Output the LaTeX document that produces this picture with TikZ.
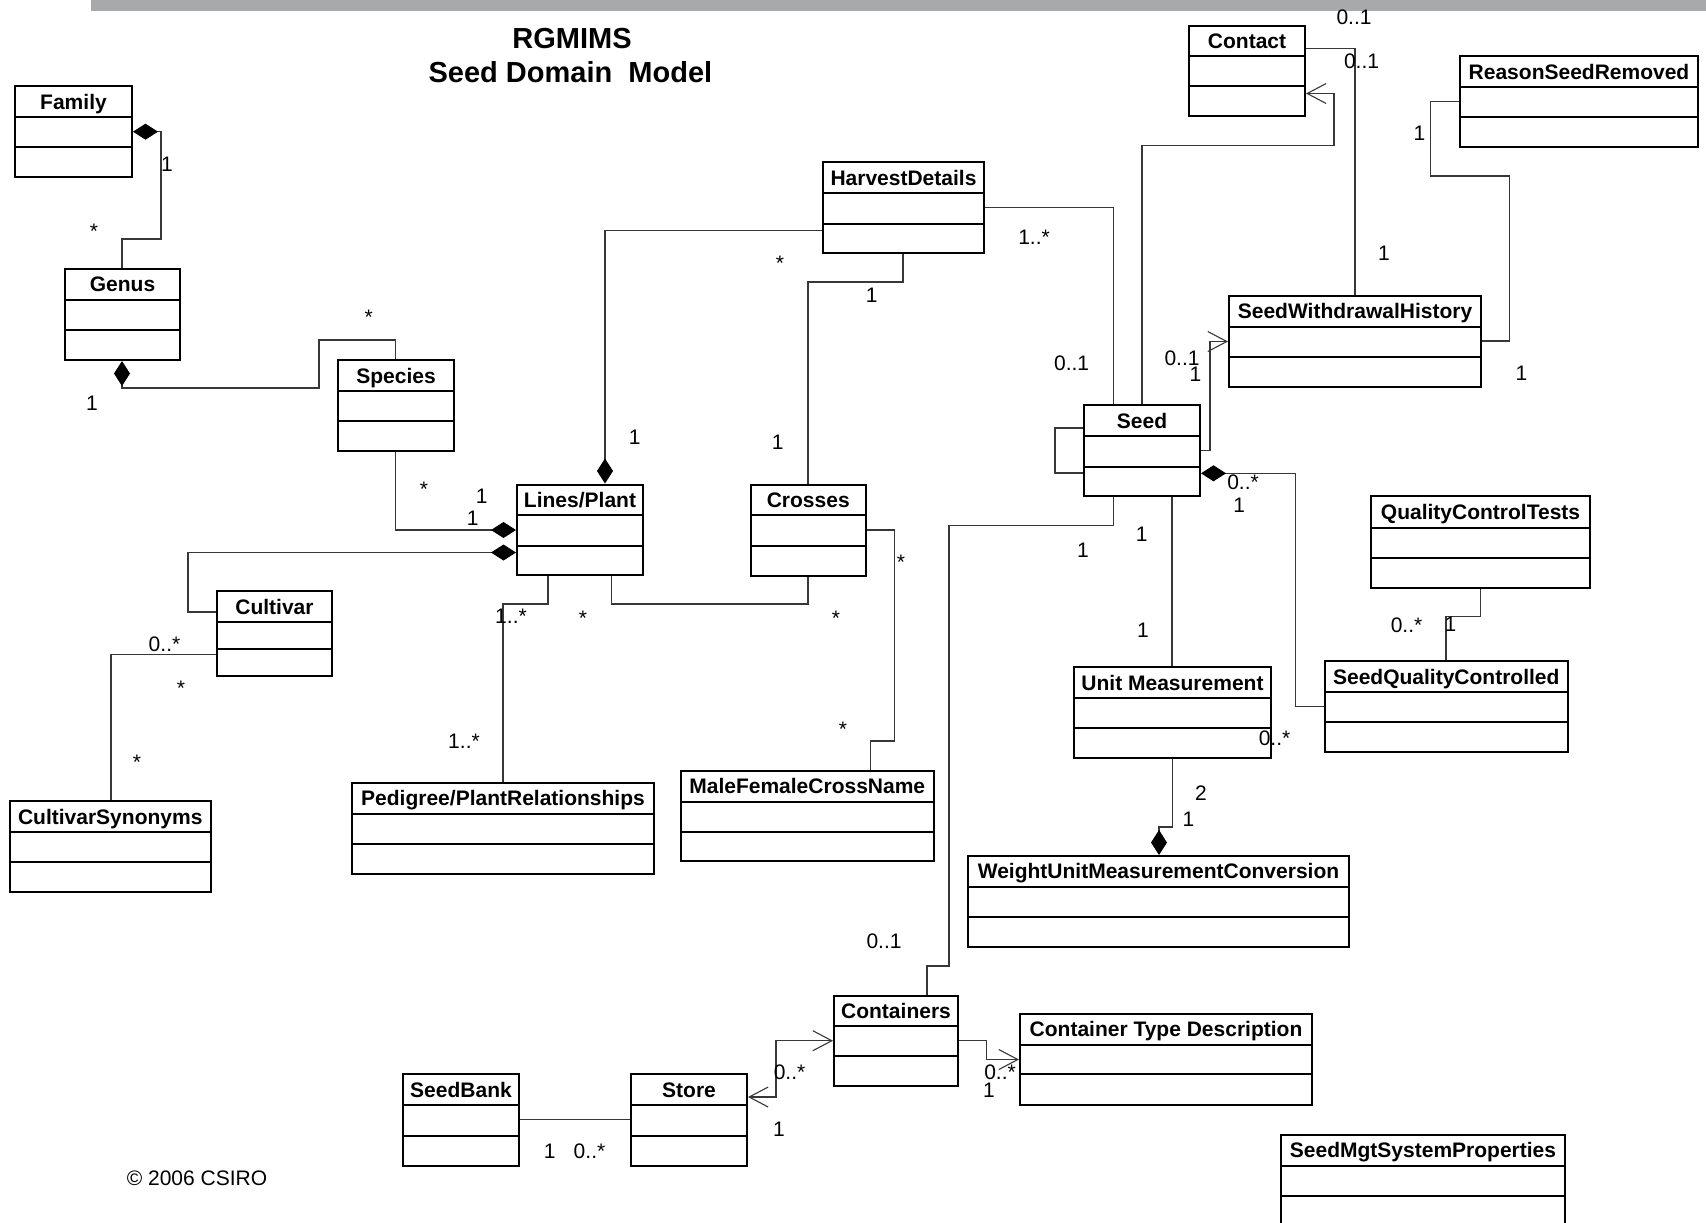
\documentclass[tikz,border=0pt]{standalone}
\usepackage{fontspec}
\setmainfont{Liberation Sans}
\usetikzlibrary{arrows.meta,fit,calc}

\definecolor{barGray}{RGB}{168,169,171}
\definecolor{wireGray}{RGB}{55,55,55}

\tikzset{
  owned/.tip={Diamond[length=12.5pt,width=8pt,color=black]},
  openv/.tip={Straight Barb[length=9.5pt,width=10pt]},
  classbox/.style={draw=black, line width=1pt, inner sep=0pt},
  classrule/.style={draw=black, line width=1pt},
  classname/.style={font=\fontsize{10.5}{12}\selectfont\bfseries, inner sep=0pt,
                    text height=7.5pt, text depth=0pt},
  mult/.style={font=\fontsize{10.5}{12}\selectfont, inner sep=0pt,
               text height=7.5pt, text depth=0pt},
  headline/.style={font=\fontsize{14.5}{17}\selectfont\bfseries, inner sep=0pt,
                   text height=10.4pt, text depth=0pt},
  wire/.style={draw=wireGray, line width=0.55pt},
}

% UML class: name, x1, y1, x2, y2, first rule, second rule, title
\newcommand\umlclass[8]{%
  \node[classbox, fit={(#2,#3) (#4,#5)}] (#1) {};
  \draw[classrule] (#2,#6) -- (#4,#6);
  \draw[classrule] (#2,#7) -- (#4,#7);
  \node[classname] (#1-name) at ($(#2,#3)!0.5!(#4,#6)$) {#8};
}

\begin{document}
\begin{tikzpicture}[x=0.5pt,y=-0.5pt]
\clip (0,0) rectangle (1706,1222);
\fill[white] (0,0) rectangle (1706,1222);
\fill[barGray] (91,0) rectangle (1706,11);

% title and copyright
\node[headline] (title1) at (572,37.6) {RGMIMS};
\node[headline] (title2) at (570.4,72.4) {Seed Domain~ Model};
\node[mult] (copyright) at (197,1178) {© 2006 CSIRO};

% classes
\umlclass{family}{15}{86}{132}{177}{117}{147}{Family}
\umlclass{genus}{65}{269}{180}{360}{299.5}{330}{Genus}
\umlclass{species}{338}{360}{454}{451}{391}{420.5}{Species}
\umlclass{lines}{517}{484.5}{643}{575}{515}{545.5}{Lines/Plant}
\umlclass{crosses}{750.5}{484.5}{866}{575.5}{515}{545.5}{Crosses}
\umlclass{harvest}{823}{162}{984}{253}{193}{223.5}{HarvestDetails}
\umlclass{cultivar}{217}{591}{332}{675.5}{622}{649}{Cultivar}
\umlclass{cultsyn}{10}{801}{210.5}{892}{832}{862}{CultivarSynonyms}
\umlclass{pedigree}{352}{782.5}{654}{874}{813.5}{843.5}{Pedigree/PlantRelationships}
\umlclass{mfcn}{681}{770.5}{933.5}{861}{801.5}{831.5}{MaleFemaleCrossName}
\umlclass{contact}{1189}{25.5}{1305}{116}{56}{86}{Contact}
\umlclass{rsr}{1460}{56}{1698}{146.5}{87}{116.5}{ReasonSeedRemoved}
\umlclass{swh}{1229}{295.5}{1481}{386.5}{327}{357}{SeedWithdrawalHistory}
\umlclass{seed}{1084}{405}{1200}{496}{436}{466.7}{Seed}
\umlclass{qct}{1371}{496}{1590}{588}{528}{558}{QualityControlTests}
\umlclass{sqc}{1324.5}{661}{1568}{752}{692}{722}{SeedQualityControlled}
\umlclass{um}{1074}{667}{1271}{758}{698}{728}{Unit Measurement}
\umlclass{wumc}{968}{856}{1349}{946.5}{886.5}{916.5}{WeightUnitMeasurementConversion}
\umlclass{containers}{834}{995.5}{958}{1086}{1026}{1056}{Containers}
\umlclass{ctd}{1020}{1014}{1312}{1105}{1044.5}{1074}{Container Type Description}
\umlclass{seedbank}{403}{1074}{519}{1165.5}{1105}{1135.5}{SeedBank}
\umlclass{store}{631}{1074}{747}{1165.5}{1105}{1135.5}{Store}
\umlclass{smsp}{1281}{1135}{1565}{1240}{1165.5}{1196}{SeedMgtSystemProperties}

% associations
\draw[wire, arrows={owned-}] (family.east |- 0,131.7) -- (161,131.7) -- (161,239) -- (122,239) -- (genus.north -| 122,0);
\draw[wire, arrows={owned-}] (genus.south -| 122,0) -- (122,388) -- (319,388) -- (319,340) -- (395.5,340) -- (species.north -| 395.5,0);
\draw[wire, arrows={-owned}] (species.south -| 395.5,0) -- (395.5,530) -- (lines.west |- 0,530);
\draw[wire, arrows={-owned}] (cultivar.west |- 0,612) -- (188,612) -- (188,552.5) -- (lines.west |- 0,552.5);
\draw[wire, arrows={-owned}] (harvest.west |- 0,230.5) -- (605,230.5) -- (lines.north -| 605,0);
\draw[wire] (harvest.south -| 903,0) -- (903,282) -- (808,282) -- (crosses.north -| 808,0);
\draw[wire] (lines.south -| 611.7,0) -- (611.7,604) -- (808,604) -- (crosses.south -| 808,0);
\draw[wire] (lines.south -| 548,0) -- (548,604) -- (503,604) -- (pedigree.north -| 503,0);
\draw[wire] (cultivar.west |- 0,654.7) -- (111,654.7) -- (cultsyn.north -| 111,0);
\draw[wire] (crosses.east |- 0,530) -- (894.5,530) -- (894.5,741) -- (870.5,741) -- (mfcn.north -| 870.5,0);
\draw[wire] (harvest.east |- 0,207.6) -- (1113.5,207.6) -- (seed.north -| 1113.5,0);
\draw[wire, arrows={-openv}] (seed.north -| 1142,0) -- (1142,145.5) -- (1334,145.5) -- (1334,93.5) -- (contact.east |- 0,93.5);
\draw[wire] (contact.east |- 0,48.2) -- (1355,48.2) -- (swh.north -| 1355,0);
\draw[wire] (rsr.west |- 0,101.6) -- (1430.3,101.6) -- (1430.3,176) -- (1509.5,176) -- (1509.5,341) -- (swh.east |- 0,341);
\draw[wire, arrows={-openv}] (seed.east |- 0,450.5) -- (1210,450.5) -- (1210,341.5) -- (swh.west |- 0,341.5);
\draw[wire] (seed.west |- 0,428) -- (1055,428) -- (1055,473) -- (seed.west |- 0,473);
\draw[wire, arrows={owned-}] (seed.east |- 0,473.3) -- (1295.5,473.3) -- (1295.5,706.3) -- (sqc.west |- 0,706.3);
\draw[wire] (qct.south -| 1480.5,0) -- (1480.5,616.7) -- (1446,616.7) -- (sqc.north -| 1446,0);
\draw[wire] (seed.south -| 1172,0) -- (um.north -| 1172,0);
\draw[wire, arrows={-owned}] (um.south -| 1172.6,0) -- (1172.6,827) -- (1159,827) -- (wumc.north -| 1159,0);
\draw[wire] (seed.south -| 1113.3,0) -- (1113.3,525.5) -- (949,525.5) -- (949,966) -- (927,966) -- (containers.north -| 927,0);
\draw[wire, arrows={openv-openv}] (store.east |- 0,1097) -- (776,1097) -- (776,1040.7) -- (containers.west |- 0,1040.7);
\draw[wire, arrows={-openv}] (containers.east |- 0,1040.7) -- (986.7,1040.7) -- (986.7,1059.5) -- (ctd.west |- 0,1059.5);
\draw[wire] (seedbank.east |- 0,1119.7) -- (store.west |- 0,1119.7);

% multiplicities
\node[mult] (m1) at (167,164) {1};
\node[mult] (m2) at (94,231) {*};
\node[mult] (m3) at (92,403) {1};
\node[mult] (m4) at (368.6,317) {*};
\node[mult] (m5) at (424,489) {*};
\node[mult] (m6) at (481.6,496) {1};
\node[mult] (m7) at (472.8,518) {1};
\node[mult] (m8) at (780,262.8) {*};
\node[mult] (m9) at (634.6,437) {1};
\node[mult] (m10) at (871.8,294.6) {1};
\node[mult] (m11) at (777.8,441.7) {1};
\node[mult] (m12) at (511,616) {1..*};
\node[mult] (m13) at (583,618) {*};
\node[mult] (m14) at (836,618) {*};
\node[mult] (m15) at (464,741) {1..*};
\node[mult] (m16) at (164.5,644) {0..*};
\node[mult] (m17) at (181,687.5) {*};
\node[mult] (m18) at (137,761.7) {*};
\node[mult] (m19) at (901,562) {*};
\node[mult] (m20) at (843,728.5) {*};
\node[mult] (m21) at (1034,237) {1..*};
\node[mult] (m22) at (1071.6,363) {0..1};
\node[mult] (m23) at (1354,16.6) {0..1};
\node[mult] (m24) at (1361.5,61.3) {0..1};
\node[mult] (m25) at (1384,253) {1};
\node[mult] (m26) at (1419.4,132.5) {1};
\node[mult] (m27) at (1521.5,372.5) {1};
\node[mult] (m28) at (1182,357.8) {0..1};
\node[mult] (m29) at (1195.5,373.7) {1};
\node[mult] (m30) at (1243,481.7) {0..*};
\node[mult] (m31) at (1239.3,505) {1};
\node[mult] (m32) at (1141.7,534) {1};
\node[mult] (m33) at (1083,550) {1};
\node[mult] (m34) at (1143,629.8) {1};
\node[mult] (m35) at (1274.5,738) {0..*};
\node[mult] (m36) at (1406.5,624.6) {0..*};
\node[mult] (m37) at (1450.5,623.8) {1};
\node[mult] (m38) at (1201,793) {2};
\node[mult] (m39) at (1188.5,819.4) {1};
\node[mult] (m40) at (884,941) {0..1};
\node[mult] (m41) at (789.5,1072) {0..*};
\node[mult] (m42) at (779,1128.8) {1};
\node[mult] (m43) at (1000,1072) {0..*};
\node[mult] (m44) at (989,1090) {1};
\node[mult] (m45) at (549.6,1151.4) {1};
\node[mult] (m46) at (589.5,1151) {0..*};
\end{tikzpicture}
\end{document}
